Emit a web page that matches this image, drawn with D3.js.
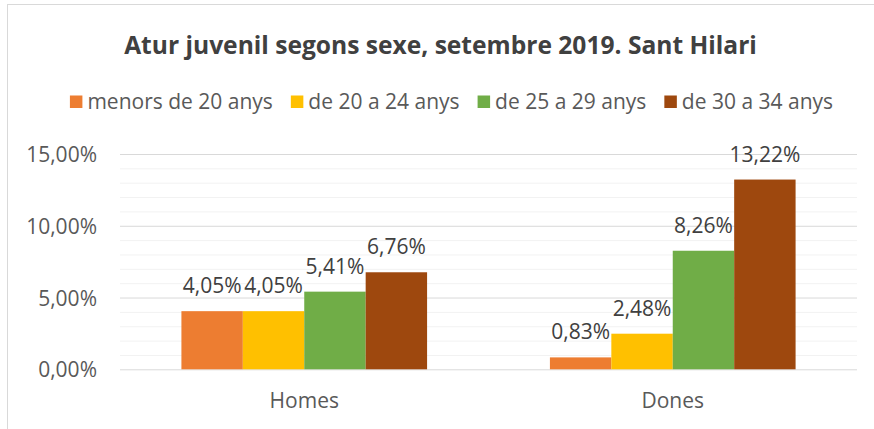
<!DOCTYPE html>
<html>
<head>
<meta charset="utf-8">
<script src="https://cdn.jsdelivr.net/npm/d3@7"></script>
<style>
  html, body { margin: 0; padding: 0; background: #fff; }
  svg { display: block; }
  text { font-family: "Open Sans", "Liberation Sans", sans-serif; }
</style>
</head>
<body>
<svg id="chart" width="874" height="429"></svg>
<script>
// ---- data ----
const categories = ["Homes", "Dones"];
const seriesNames = ["menors de 20 anys", "de 20 a 24 anys", "de 25 a 29 anys", "de 30 a 34 anys"];
const menors20 = [4.05, 0.83];
const de20a24 = [4.05, 2.48];
const de25a29 = [5.41, 8.26];
const de30a34 = [6.76, 13.22];
const yTicks = [0, 5, 10, 15];
const yMinorTicks = [1, 2, 3, 4, 6, 7, 8, 9, 11, 12, 13, 14];
const titleText = "Atur juvenil segons sexe, setembre 2019. Sant Hilari";

// ---- styles ----
const colors = ["#ED7D31", "#FFC000", "#70AD47", "#9E480E"];
const seriesValues = [menors20, de20a24, de25a29, de30a34];
const labelSize = "21px";

const svg = d3.select("#chart");
const plot = { left: 120, right: 857, top: 154, bottom: 369.3 };

const locale = d3.formatLocale({ decimal: ",", thousands: ".", grouping: [3], currency: ["", "€"] });
const fmt = v => locale.format(".2f")(v) + "%";

// chart border
svg.append("rect")
  .attr("x", 7.5).attr("y", 4.5)
  .attr("width", 900).attr("height", 460)
  .attr("fill", "#fff").attr("stroke", "#D9D9D9").attr("stroke-width", 1);

const x0 = d3.scaleBand().domain(categories).range([plot.left, plot.right]).padding(0);
const x1 = d3.scaleBand().domain(seriesNames).range([0, x0.bandwidth()]).paddingInner(0).paddingOuter(1);
const y = d3.scaleLinear().domain([0, 15]).range([plot.bottom, plot.top]);

// minor gridlines
svg.append("g")
  .attr("transform", `translate(${plot.left},0)`)
  .call(d3.axisLeft(y).tickValues(yMinorTicks).tickSize(-(plot.right - plot.left)).tickFormat(""))
  .call(g => g.select(".domain").remove())
  .call(g => g.selectAll("line").attr("stroke", "#F2F2F2").attr("stroke-width", 1));

// major gridlines
svg.append("g")
  .attr("transform", `translate(${plot.left},0)`)
  .call(d3.axisLeft(y).tickValues(yTicks).tickSize(-(plot.right - plot.left)).tickFormat(""))
  .call(g => g.select(".domain").remove())
  .call(g => g.selectAll("line").attr("stroke", "#D9D9D9").attr("stroke-width", 1));

// y axis labels
svg.append("g")
  .attr("transform", `translate(${plot.left},0)`)
  .call(d3.axisLeft(y).tickValues(yTicks).tickSize(0).tickPadding(23).tickFormat(fmt))
  .call(g => g.select(".domain").remove())
  .call(g => g.selectAll("text")
    .attr("fill", "#595959").attr("font-size", labelSize)
    .attr("font-family", "'Open Sans', sans-serif").attr("dy", "0.36em"));

// bars
const groups = svg.append("g").selectAll("g")
  .data(categories)
  .join("g")
  .attr("transform", d => `translate(${x0(d)},0)`);

groups.selectAll("rect")
  .data((c, ci) => seriesNames.map((s, si) => ({ s, si, v: seriesValues[si][ci] })))
  .join("rect")
  .attr("x", d => x1(d.s))
  .attr("width", x1.bandwidth())
  .attr("y", d => y(d.v))
  .attr("height", d => y(0) - y(d.v))
  .attr("fill", d => colors[d.si]);

groups.selectAll("text")
  .data((c, ci) => seriesNames.map((s, si) => ({ s, si, v: seriesValues[si][ci] })))
  .join("text")
  .attr("x", d => x1(d.s) + x1.bandwidth() / 2)
  .attr("y", d => y(d.v) - 18)
  .attr("text-anchor", "middle")
  .attr("fill", "#404040")
  .attr("font-size", labelSize)
  .text(d => fmt(d.v));

// category axis
svg.append("g")
  .attr("transform", `translate(0,${plot.bottom})`)
  .call(d3.axisBottom(x0).tickSize(0).tickPadding(0))
  .call(g => g.select(".domain").remove())
  .call(g => g.selectAll("text")
    .attr("fill", "#595959").attr("font-size", labelSize)
    .attr("font-family", "'Open Sans', sans-serif")
    .attr("y", 39).attr("dy", 0));

// title
const title = svg.append("text")
  .attr("x", 440.5).attr("y", 54)
  .attr("text-anchor", "middle")
  .attr("fill", "#404040")
  .attr("font-weight", "bold")
  .attr("font-size", "24px")
  .text(titleText);
const tw = title.node().getComputedTextLength();
title.attr("font-size", (24 * 633 / tw).toFixed(2) + "px");

// legend
const legend = svg.append("g");
const sq = 12.5, gapText = 5, gapItem = 18;
let lx = 0;
seriesNames.forEach((name, i) => {
  const item = legend.append("g").attr("transform", `translate(${lx},0)`);
  item.append("rect").attr("x", 0).attr("y", 95.5).attr("width", sq).attr("height", sq).attr("fill", colors[i]);
  const t = item.append("text").attr("x", sq + gapText).attr("y", 109)
    .attr("fill", "#595959").attr("font-size", labelSize).text(name);
  lx += sq + gapText + t.node().getComputedTextLength() + gapItem;
});
const legendWidth = lx - gapItem;
legend.attr("transform", `translate(${451.5 - legendWidth / 2},0)`);
</script>
</body>
</html>
